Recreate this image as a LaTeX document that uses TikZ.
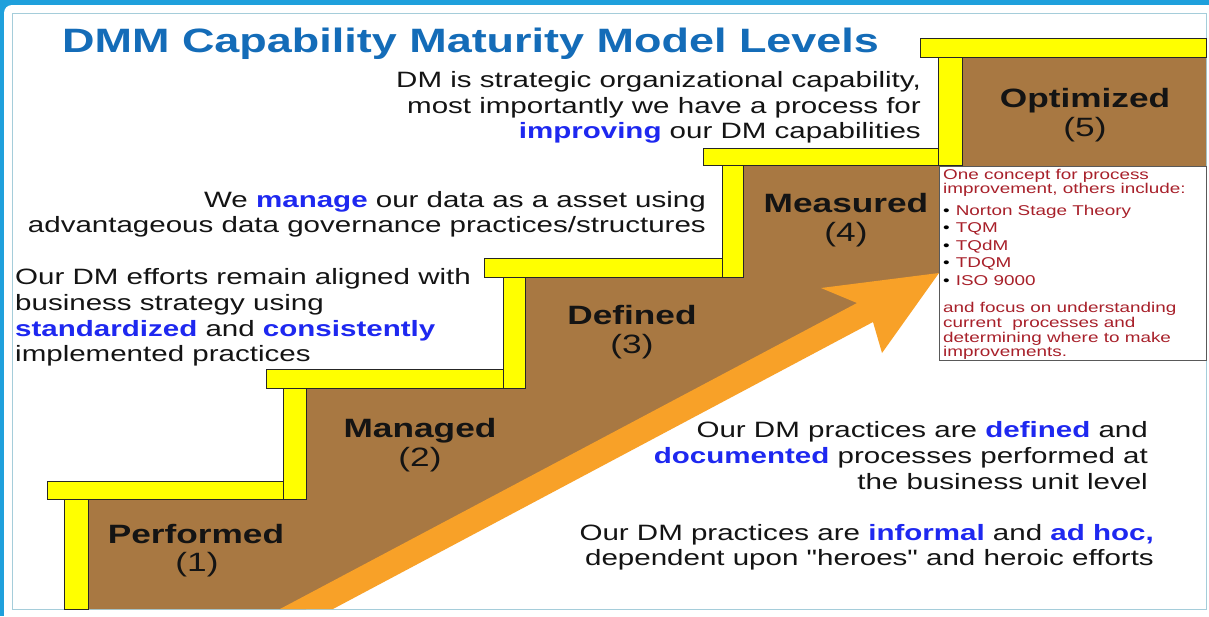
\documentclass[tikz,border=0pt]{standalone}
\usepackage{fontspec}
\setmainfont{Liberation Sans}[FakeStretch=1.33, Ligatures=TeXOff]
\definecolor{frameblue}{RGB}{31,160,220}
\definecolor{slideline}{RGB}{165,205,218}
\definecolor{titleblue}{RGB}{20,108,184}
\definecolor{hlblue}{RGB}{30,40,240}
\definecolor{textblack}{RGB}{20,20,20}
\definecolor{stairyellow}{RGB}{255,255,0}
\definecolor{stairbrown}{RGB}{168,120,66}
\definecolor{arroworange}{RGB}{248,161,40}
\definecolor{boxred}{RGB}{168,32,42}
\newcommand\hl[1]{\textcolor{hlblue}{\textbf{#1}}}
\begin{document}
\begin{tikzpicture}[x=1pt,y=-1pt,
  board/.style={fill=stairyellow, draw=black!85, line width=0.9pt},
  txt/.style={inner sep=0pt, font=\fontsize{22.2}{25}\selectfont, text=textblack},
  lvl/.style={inner sep=0pt, anchor=base, font=\fontsize{26.5}{30}\selectfont\bfseries, text=textblack},
  lvlnum/.style={inner sep=0pt, anchor=base, font=\fontsize{26.5}{30}\selectfont, text=textblack},
  boxtxt/.style={inner sep=0pt, anchor=base west, font=\fontsize{14.2}{15}\selectfont, text=boxred}
]
\useasboundingbox (0,0) rectangle (1209,616);
% screen frame
\fill[frameblue] (0,0) rectangle (1209,616);
\fill[white, rounded corners=8pt] (4,5) rectangle (1230,640);
\draw[slideline, line width=0.8pt] (12,13) rectangle (1206,609);

% brown staircase body
\fill[stairbrown] (88,609) -- (88,499) -- (283,499) -- (283,388) -- (503,388) -- (503,277)
  -- (722,277) -- (722,165) -- (938,165) -- (938,57) -- (1206,57) -- (1206,166)
  -- (939,166) -- (939,273) -- (306,609) -- cycle;

% orange arrow
\fill[arroworange] (280,609) -- (857,303) -- (821,288) -- (939,273) -- (882,353) -- (873,322) -- (333,609) -- cycle;

% treads
\draw[board] (47,481) rectangle (306,499);
\draw[board] (266,369) rectangle (525,388);
\draw[board] (484,258) rectangle (743,277);
\draw[board] (703,148) rectangle (962,165);
\draw[board] (920,38) rectangle (1206,57);
% risers
\draw[board] (64,499) rectangle (88,609);
\draw[board] (283,388) rectangle (306,499);
\draw[board] (503,277) rectangle (525,388);
\draw[board] (722,165) rectangle (743,277);
\draw[board] (938,57) rectangle (962,165);

% title
\node[inner sep=0pt, anchor=base west, font=\fontsize{33.8}{40}\selectfont\bfseries, text=titleblue] (title) at (62,52) {DMM Capability Maturity Model Levels};

% level labels
\node[lvl] (n1) at (196,543) {Performed};
\node[lvlnum] (m1) at (197,571) {(1)};
\node[lvl] (n2) at (420,437) {Managed};
\node[lvlnum] (m2) at (420,466) {(2)};
\node[lvl] (n3) at (632,324) {Defined};
\node[lvlnum] (m3) at (632,353) {(3)};
\node[lvl] (n4) at (846,212) {Measured};
\node[lvlnum] (m4) at (846,241) {(4)};
\node[lvl] (n5) at (1085,107) {Optimized};
\node[lvlnum] (m5) at (1085,136) {(5)};

% block A
\node[txt, anchor=base east] (a1) at (921,87) {DM is strategic organizational capability,};
\node[txt, anchor=base east] (a2) at (921,113) {most importantly we have a process for};
\node[txt, anchor=base east] (a3) at (921,138) {\hl{improving} our DM capabilities};
% block B
\node[txt, anchor=base east] (b1) at (706,207) {We \hl{manage} our data as a asset using};
\node[txt, anchor=base east] (b2) at (706,232) {advantageous data governance practices/structures};
% block C
\node[txt, anchor=base west] (c1) at (15,284) {Our DM efforts remain aligned with};
\node[txt, anchor=base west] (c2) at (15,310) {business strategy using};
\node[txt, anchor=base west] (c3) at (15,336) {\hl{standardized} and \hl{consistently}};
\node[txt, anchor=base west] (c4) at (15,361) {implemented practices};
% block D
\node[txt, anchor=base east] (d1) at (1148,437) {Our DM practices are \hl{defined} and};
\node[txt, anchor=base east] (d2) at (1148,463) {\hl{documented} processes performed at};
\node[txt, anchor=base east] (d3) at (1148,489) {the business unit level};
% block E
\node[txt, anchor=base east] (e1) at (1154,540) {Our DM practices are \hl{informal} and \hl{ad hoc,}};
\node[txt, anchor=base east] (e2) at (1154,565) {dependent upon "heroes" and heroic efforts};

% info box
\node[draw=black!65, line width=1pt, fill=white, anchor=north west, minimum width=267pt, minimum height=194pt, inner sep=0pt] (box) at (939,166) {};
\node[boxtxt] (t1) at (943,179) {One concept for process};
\node[boxtxt] (t2) at (943,193) {improvement, others include:};
\node[boxtxt] (t3) at (943,215) {\textcolor{black}{•}\hspace{6pt}Norton Stage Theory};
\node[boxtxt] (t4) at (943,232) {\textcolor{black}{•}\hspace{6pt}TQM};
\node[boxtxt] (t5) at (943,250) {\textcolor{black}{•}\hspace{6pt}TQdM};
\node[boxtxt] (t6) at (943,267) {\textcolor{black}{•}\hspace{6pt}TDQM};
\node[boxtxt] (t7) at (943,285) {\textcolor{black}{•}\hspace{6pt}ISO 9000};
\node[boxtxt] (t8) at (943,312) {and focus on understanding};
\node[boxtxt] (t9) at (943,327) {current~ processes and};
\node[boxtxt] (t10) at (943,342) {determining where to make};
\node[boxtxt] (t11) at (943,356) {improvements.};
\end{tikzpicture}
\end{document}
